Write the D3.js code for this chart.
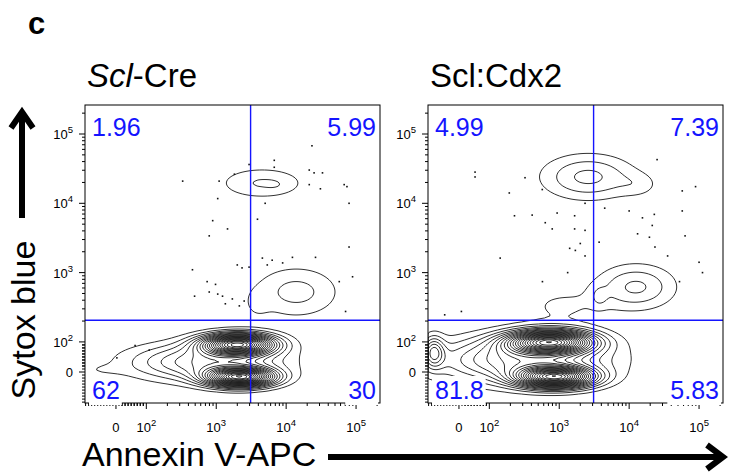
<!DOCTYPE html>
<html lang="en">
<head>
<meta charset="UTF-8">
<title>Annexin V / Sytox blue</title>
<script src="https://d3js.org/d3.v7.min.js"></script>
<style>
  body { margin: 0; background: #fff; }
  svg { display: block; font-family: "Liberation Sans", Arial, sans-serif; }
</style>
</head>
<body>
<svg id="chart" width="730" height="473"></svg>
<script>
// axis ticks (biexponential display)
const majorTicks = [0, 1e2, 1e3, 1e4, 1e5];
const majorExponents = ["", "2", "3", "4", "5"];
const annexinRange = [-102, 220000];
const sytoxRange = [-103, 262144];

const panelTitles = ["Scl-Cre", "Scl:Cdx2"];
// quadrant frequencies: UL, UR, LL, LR
const creQuadrants = ["1.96", "5.99", "62", "30"];
const cdx2Quadrants = ["4.99", "7.39", "81.8", "5.83"];
const gateAnnexin = 3100;
const gateSytox = 205;

// populations: [annexin, sytox, spread annexin (decades), spread sytox (decades), peak]
const creComponents = [
  [2050, 92, 0.34, 0.10, 1],
  [2190, -17, 0.32, 0.09, 1],
  [695, 33, 0.70, 0.18, 0.3],
  [-50, 7, 0.25, 0.06, 0.03],
  [4530, 19600, 0.42, 0.155, 0.105],
  [7190, 18400, 0.10, 0.05, 0.015],
  [13900, 525, 0.42, 0.25, 0.12],
  [3800, 350, 0.12, 0.14, 0.04]
];
const cdx2Components = [
  [738, 100, 0.40, 0.11, 1],
  [871, -17, 0.36, 0.10, 1],
  [275, 40, 0.80, 0.22, 0.35],
  [-83, 66, 0.10, 0.15, 0.25],
  [2590, 24000, 0.45, 0.22, 0.165],
  [14000, 18400, 0.20, 0.12, 0.05],
  [12600, 621, 0.38, 0.22, 0.16],
  [3720, 445, 0.08, 0.10, 0.06],
  [1028, 330, 0.45, 0.22, 0.055]
];

// outlier events [annexin, sytox]
const creOutliers = [
  [23400, 67600], [2950, 36300], [6760, 41700], [6760, 33100], [331, 20900],
  [1100, 20900], [1820, 26300], [21400, 30200], [25100, 27500], [33100, 27500],
  [21400, 18600], [30900, 16200], [67600, 18600], [74100, 17400], [5010, 10000],
  [1050, 11700], [79400, 10000], [890, 5620], [3890, 5890], [794, 3390],
  [1450, 4270], [79400, 2340], [4570, 1620], [6310, 1510], [12300, 1660],
  [26300, 1660], [8910, 1380], [2000, 1290], [2340, 1170], [2950, 1200],
  [5370, 1290], [457, 1100], [89100, 871], [57500, 741], [741, 741],
  [977, 676], [794, 525], [1050, 490], [1230, 457], [490, 457],
  [1700, 417], [2510, 389], [1350, 355], [2140, 331], [70800, 275],
  [63, 88], [3, 47], [110, 73]
];
const cdx2Outliers = [
  [25100, 42700], [53, 28200], [53, 24000], [324, 23400], [57500, 15100],
  [89100, 17400], [193, 14100], [572, 15800], [2340, 10000], [4470, 8510],
  [10000, 7760], [15500, 6170], [22900, 6920], [57500, 7760], [933, 7240],
  [229, 6610], [410, 6760], [1660, 6610], [631, 5250], [21400, 4790],
  [1660, 4270], [2340, 4070], [794, 4270], [13200, 3630], [63100, 3390],
  [19500, 3240], [3720, 2750], [2000, 2630], [1410, 2240], [1700, 2090],
  [2340, 1740], [23400, 2340], [35500, 1740], [143, 1620], [100000, 1410],
  [112000, 1000], [52500, 741], [1320, 1000], [575, 741], [8, 275], [-47, 246]
];

const BLUE = "#1414ff";
const contourStep = 0.05;

function biex(v) {
  const a = Math.abs(v);
  const t = a <= 100 ? a / (100 * Math.LN10) : 1 / Math.LN10 + Math.log10(a / 100);
  return v < 0 ? -t : t;
}

const svg = d3.select("#chart");
const W = 295, H = 298, top0 = 105;
const panels = [
  { x0: 85, title: panelTitles[0], italic: "Scl", quads: creQuadrants, comps: creComponents, dots: creOutliers },
  { x0: 428, title: panelTitles[1], italic: null, quads: cdx2Quadrants, comps: cdx2Components, dots: cdx2Outliers }
];

const minorTicks = [];
[1, 10, 100, 1000, 10000, 100000].forEach(dec => {
  for (let m = 1; m <= 9; m++) {
    const v = dec === 1 ? m * 10 : m * dec;
    if (dec === 1 || m > 1) minorTicks.push(v);
  }
});
minorTicks.push(...d3.range(10, 101, 10).map(v => -v));

svg.append("text").attr("x", 28).attr("y", 34)
  .attr("font-size", 31).attr("font-weight", "bold").text("c");

panels.forEach((p, idx) => {
  const x = d3.scaleLinear().domain(annexinRange.map(biex)).range([p.x0, p.x0 + W]);
  const y = d3.scaleLinear().domain(sytoxRange.map(biex)).range([top0 + H, top0]);
  const g = svg.append("g");

  // title
  const t = g.append("text").attr("x", p.x0 + 2).attr("y", 87).attr("font-size", 33);
  if (p.italic) {
    t.append("tspan").attr("font-style", "italic").text(p.italic);
    t.append("tspan").text(p.title.slice(p.italic.length));
  } else t.text(p.title);

  const clipId = "clip" + idx;
  svg.append("clipPath").attr("id", clipId)
    .append("rect").attr("x", p.x0).attr("y", top0).attr("width", W).attr("height", H);

  // density grid
  const step = 2;
  const nx = Math.ceil(W / step), ny = Math.ceil(H / step);
  const comps = p.comps.map(c => [biex(c[0]), biex(c[1]), c[2], c[3], c[4]]);
  const grid = new Float64Array(nx * ny);
  for (let j = 0; j < ny; j++) {
    const ty = y.invert(top0 + (j + 0.5) * step);
    for (let i = 0; i < nx; i++) {
      const tx = x.invert(p.x0 + (i + 0.5) * step);
      let d = 0;
      comps.forEach(c => {
        const dx = (tx - c[0]) / c[2], dy = (ty - c[1]) / c[3];
        d += c[4] * Math.exp(-0.5 * (dx * dx + dy * dy));
      });
      grid[j * nx + i] = d;
    }
  }
  const levels = d3.range(contourStep, d3.max(grid), contourStep);
  const contours = d3.contours().size([nx, ny]).thresholds(levels)(grid);
  const path = d3.geoPath(d3.geoIdentity().scale(step).translate([p.x0, top0]));
  g.append("g").attr("clip-path", `url(#${clipId})`)
    .selectAll("path").data(contours).join("path")
    .attr("d", path).attr("fill", "none").attr("stroke", "#1a1a1a").attr("stroke-width", 0.9);

  // outlier events
  g.append("g").selectAll("rect").data(p.dots).join("rect")
    .attr("x", d => x(biex(d[0])) - 0.8).attr("y", d => y(biex(d[1])) - 0.8)
    .attr("width", 1.6).attr("height", 1.6).attr("fill", "#111");

  // quadrant gates
  g.append("line").attr("x1", x(biex(gateAnnexin))).attr("x2", x(biex(gateAnnexin)))
    .attr("y1", top0).attr("y2", top0 + H).attr("stroke", BLUE).attr("stroke-width", 1.4);
  g.append("line").attr("x1", p.x0).attr("x2", p.x0 + W)
    .attr("y1", y(biex(gateSytox))).attr("y2", y(biex(gateSytox))).attr("stroke", BLUE).attr("stroke-width", 1.4);

  // frame
  g.append("rect").attr("x", p.x0).attr("y", top0).attr("width", W).attr("height", H)
    .attr("fill", "none").attr("stroke", "#000").attr("stroke-width", 1);

  // ticks
  const xt = g.append("g").attr("stroke", "#000").attr("stroke-width", 1);
  majorTicks.forEach(v => {
    xt.append("line").attr("x1", x(biex(v))).attr("x2", x(biex(v))).attr("y1", top0 + H).attr("y2", top0 + H + 6);
    xt.append("line").attr("y1", y(biex(v))).attr("y2", y(biex(v))).attr("x1", p.x0).attr("x2", p.x0 - 6);
  });
  minorTicks.forEach(v => {
    if (biex(v) < x.domain()[1]) xt.append("line").attr("x1", x(biex(v))).attr("x2", x(biex(v))).attr("y1", top0 + H).attr("y2", top0 + H + 3);
    if (biex(v) < y.domain()[1]) xt.append("line").attr("y1", y(biex(v))).attr("y2", y(biex(v))).attr("x1", p.x0).attr("x2", p.x0 - 3);
  });

  majorTicks.forEach((v, i) => {
    const lx = g.append("text").attr("x", x(biex(v))).attr("y", top0 + H + 29)
      .attr("text-anchor", "middle").attr("font-size", 13);
    const ly = g.append("text").attr("x", p.x0 - 12).attr("y", y(biex(v)) + 5)
      .attr("text-anchor", "end").attr("font-size", 13);
    [lx, ly].forEach(tx => {
      if (majorExponents[i] === "") tx.text("0");
      else {
        tx.append("tspan").text("10");
        tx.append("tspan").attr("dy", -6).attr("font-size", 9.5).text(majorExponents[i]);
      }
    });
  });

  // quadrant frequencies
  const qx = [p.x0 + 7, p.x0 + W - 4];
  const qy = [top0 + 31, top0 + H - 4];
  p.quads.forEach((q, i) => {
    const left = i % 2 === 0, bottom = i >= 2;
    const tx = g.append("text").attr("x", left ? qx[0] : qx[1]).attr("y", bottom ? qy[1] : qy[0])
      .attr("text-anchor", left ? "start" : "end").attr("font-size", 25).attr("fill", BLUE).text(q);
    if (bottom) {
      const bb = tx.node().getBBox();
      g.insert("rect", () => tx.node())
        .attr("x", bb.x - 3).attr("y", bb.y).attr("width", bb.width + 5).attr("height", top0 + H + 2 - bb.y)
        .attr("fill", "#fff");
    }
  });
});

// axis titles and arrows
svg.append("text").attr("x", 82).attr("y", 466).attr("font-size", 34).text("Annexin V-APC");
svg.append("text").attr("transform", "translate(35,320) rotate(-90)")
  .attr("text-anchor", "middle").attr("font-size", 34).text("Sytox blue");
const arrows = svg.append("g").attr("fill", "none").attr("stroke", "#000").attr("stroke-width", 6);
arrows.append("line").attr("x1", 22).attr("x2", 22).attr("y1", 218).attr("y2", 113);
arrows.append("path").attr("d", "M11,128L22,112L33,128");
arrows.append("line").attr("x1", 328).attr("x2", 720).attr("y1", 457).attr("y2", 457);
arrows.append("path").attr("d", "M707,445L723,457L707,469");
</script>
</body>
</html>
